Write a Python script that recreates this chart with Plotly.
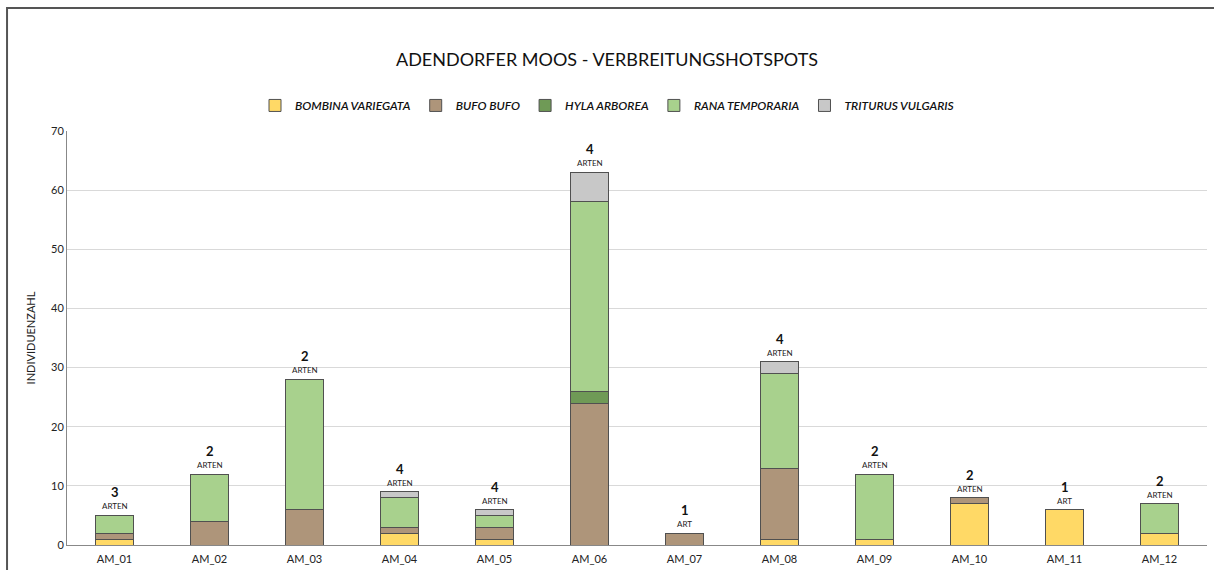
import plotly.graph_objects as go

sites = ["AM_01", "AM_02", "AM_03", "AM_04", "AM_05", "AM_06",
         "AM_07", "AM_08", "AM_09", "AM_10", "AM_11", "AM_12"]

bombina_variegata = [1, 0, 0, 2, 1, 0, 0, 1, 1, 7, 6, 2]
bufo_bufo = [1, 4, 6, 1, 2, 24, 2, 12, 0, 1, 0, 0]
hyla_arborea = [0, 0, 0, 0, 0, 2, 0, 0, 0, 0, 0, 0]
rana_temporaria = [3, 8, 22, 5, 2, 32, 0, 16, 11, 0, 0, 5]
triturus_vulgaris = [0, 0, 0, 1, 1, 5, 0, 2, 0, 0, 0, 0]

species = [
    ("BOMBINA VARIEGATA", bombina_variegata, "#FFD966"),
    ("BUFO BUFO", bufo_bufo, "#AE957A"),
    ("HYLA ARBOREA", hyla_arborea, "#6F9A56"),
    ("RANA TEMPORARIA", rana_temporaria, "#A8D18D"),
    ("TRITURUS VULGARIS", triturus_vulgaris, "#C8C8C8"),
]

fig = go.Figure()
for name, vals, color in species:
    fig.add_trace(go.Bar(
        x=sites, y=vals, name=name,
        marker=dict(color=color, line=dict(color="#505050", width=1)),
    ))

# totals and number of species per site
totals = [sum(v[i] for _, v, _ in species) for i in range(len(sites))]
counts = [sum(1 for _, v, _ in species if v[i] > 0) for i in range(len(sites))]

for site, total, n in zip(sites, totals, counts):
    fig.add_annotation(x=site, y=total, text="ART" if n == 1 else "ARTEN",
                       showarrow=False, yanchor="bottom", yshift=2,
                       font=dict(size=8, color="#222"))
    fig.add_annotation(x=site, y=total, text="<b>" + str(n) + "</b>",
                       showarrow=False, yanchor="bottom", yshift=13,
                       font=dict(size=13, color="#111"))

# outer frame
fig.add_shape(type="rect", xref="paper", yref="paper",
              x0=-0.0526, x1=1.02, y0=-0.2, y1=1.297,
              line=dict(color="#555", width=2), layer="below")

fig.update_layout(
    width=1214, height=570,
    margin=dict(l=67, r=7, t=131, b=25, autoexpand=False),
    paper_bgcolor="white", plot_bgcolor="white",
    font=dict(family="Lato, Open Sans, sans-serif", color="#222"),
    barmode="stack", bargap=0.59,
    title=dict(text="ADENDORFER MOOS - VERBREITUNGSHOTSPOTS",
               x=0.5, xref="container", y=0.895, yanchor="middle",
               font=dict(size=18, color="#111")),
    legend=dict(orientation="h", x=0.5, xanchor="center", xref="container",
                y=0.815, yref="container", yanchor="middle",
                font=dict(size=12, color="#111", style="italic", weight=600),
                itemwidth=30, traceorder="normal"),
    showlegend=True,
)

fig.update_xaxes(showline=True, linecolor="#888", linewidth=1, automargin=False,
                 ticks="", ticklabelstandoff=4, tickfont=dict(size=11, color="#222"))
fig.update_yaxes(range=[0, 70], dtick=10, showgrid=True, gridcolor="#D9D9D9",
                 showline=True, linecolor="#888", linewidth=1, zeroline=False,
                 ticks="", tickfont=dict(size=11, color="#222"), automargin=False,
                 title=dict(text="INDIVIDUENZAHL", font=dict(size=11, color="#222"),
                            standoff=13))

fig.write_html("out.html", config={"displayModeBar": False},
               post_script="document.body.style.margin = '0';")
